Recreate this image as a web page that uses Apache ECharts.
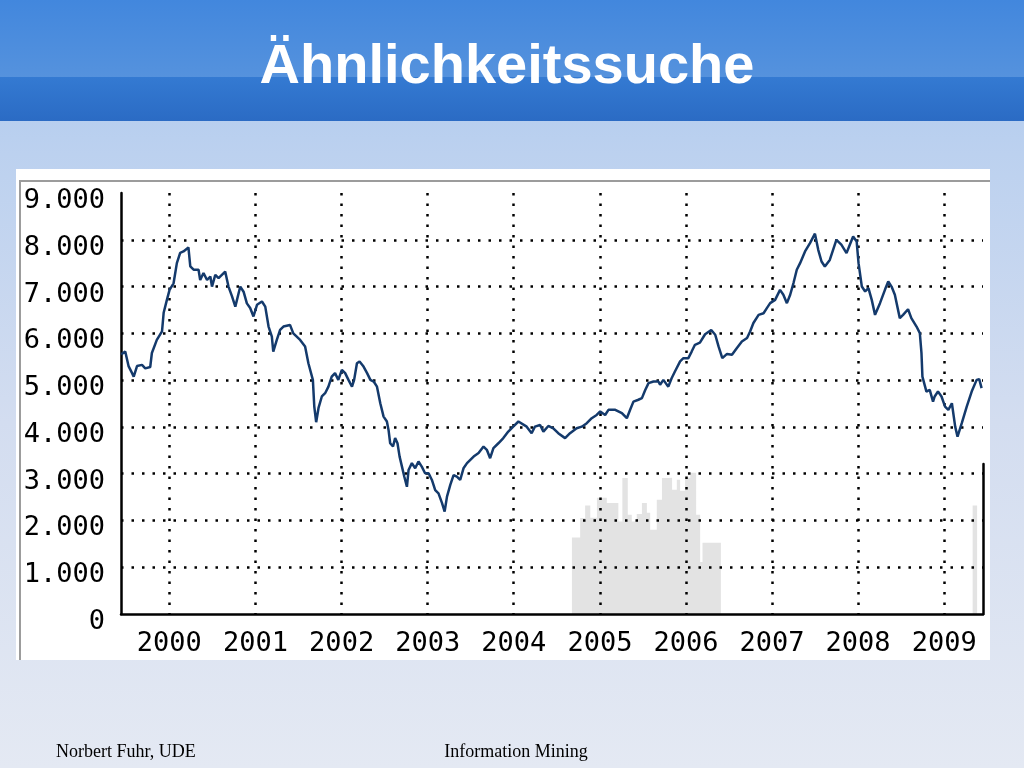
<!DOCTYPE html>
<html>
<head>
<meta charset="utf-8">
<script src="https://cdn.jsdelivr.net/npm/echarts@6/dist/echarts.min.js"></script>
<style>html,body{margin:0;padding:0;width:1024px;height:768px;overflow:hidden}#c{width:1024px;height:768px}</style>
</head>
<body>
<div id="c"></div>
<script>
// ---- data ----
const titleText = 'Ähnlichkeitssuche';
const footerLeft = 'Norbert Fuhr, UDE';
const footerCenter = 'Information Mining';
const yTickLabels = ['0','1.000','2.000','3.000','4.000','5.000','6.000','7.000','8.000','9.000'];
const yearLabels = ['2000','2001','2002','2003','2004','2005','2006','2007','2008','2009'];

const priceDates = ['1999-06-11','1999-06-28','1999-07-12','1999-07-27','1999-08-03','1999-08-17','1999-09-07','1999-09-21','1999-10-12','1999-10-19','1999-11-09','1999-12-01','1999-12-08','1999-12-22',
'2000-01-02','2000-01-19','2000-02-02','2000-02-16','2000-03-01','2000-03-22','2000-03-30','2000-04-13','2000-05-04','2000-05-11','2000-05-25','2000-06-09','2000-06-23','2000-06-30','2000-07-14','2000-07-28','2000-08-25','2000-09-08','2000-09-23','2000-10-07','2000-10-28','2000-11-11','2000-11-25','2000-12-09','2000-12-23',
'2001-01-07','2001-01-28','2001-02-11','2001-02-25','2001-03-11','2001-03-17','2001-04-01','2001-04-15','2001-04-29','2001-05-27','2001-06-10','2001-07-09','2001-07-30','2001-08-13','2001-09-01','2001-09-07','2001-09-15','2001-09-25','2001-10-09','2001-10-23','2001-11-06','2001-11-20','2001-12-04','2001-12-18',
'2002-01-02','2002-01-16','2002-01-30','2002-02-14','2002-02-23','2002-03-07','2002-03-18','2002-04-04','2002-04-19','2002-05-03','2002-05-17','2002-05-31','2002-06-14','2002-06-28','2002-07-12','2002-07-19','2002-07-26','2002-08-07','2002-08-16','2002-08-26','2002-09-04','2002-09-14','2002-09-24','2002-10-05','2002-10-12','2002-10-26','2002-11-09','2002-11-23','2002-12-07','2002-12-21',
'2003-01-05','2003-01-19','2003-02-02','2003-02-16','2003-03-03','2003-03-14','2003-03-24','2003-04-07','2003-04-21','2003-05-05','2003-05-19','2003-06-02','2003-06-17','2003-07-01','2003-07-15','2003-08-05','2003-08-26','2003-09-09','2003-09-23','2003-10-07','2003-10-28','2003-11-18','2003-12-09','2003-12-30',
'2004-01-21','2004-02-25','2004-03-17','2004-03-31','2004-04-22','2004-05-06','2004-05-27','2004-06-17','2004-07-08','2004-08-06','2004-08-27','2004-09-24','2004-10-16','2004-11-06','2004-11-27','2004-12-18',
'2005-01-02','2005-01-23','2005-02-06','2005-03-07','2005-04-04','2005-04-25','2005-05-09','2005-05-23','2005-06-13','2005-06-28','2005-07-12','2005-07-26','2005-08-16','2005-09-06','2005-09-13','2005-09-27','2005-10-18','2005-11-01','2005-11-15','2005-12-07','2005-12-21',
'2006-01-11','2006-01-25','2006-02-08','2006-03-01','2006-03-23','2006-04-18','2006-05-05','2006-05-19','2006-06-04','2006-06-24','2006-07-15','2006-08-05','2006-08-26','2006-09-17','2006-09-30','2006-10-14','2006-11-05','2006-11-26','2006-12-10','2006-12-24',
'2007-01-14','2007-02-04','2007-02-18','2007-03-05','2007-03-19','2007-04-02','2007-04-16','2007-04-30','2007-05-21','2007-06-11','2007-07-02','2007-07-16','2007-07-30','2007-08-13','2007-09-03','2007-09-17','2007-10-01','2007-10-22','2007-11-13','2007-11-27','2007-12-11','2007-12-26',
'2008-01-03','2008-01-17','2008-01-31','2008-02-14','2008-02-28','2008-03-13','2008-04-03','2008-04-24','2008-05-08','2008-05-22','2008-06-05','2008-06-26','2008-07-10','2008-07-31','2008-08-14','2008-09-05','2008-09-19','2008-09-26','2008-09-30','2008-10-17','2008-10-31','2008-11-14','2008-11-21','2008-12-05','2008-12-20',
'2009-01-04','2009-01-18','2009-02-02','2009-02-16','2009-02-26','2009-03-16','2009-04-06','2009-04-27','2009-05-18','2009-05-29','2009-06-08'];

const priceValues = [5550,5610,5300,5150,5075,5300,5325,5250,5280,5580,5860,6040,6440,6720,
6930,7070,7500,7720,7750,7835,7430,7360,7360,7140,7290,7140,7215,7000,7250,7180,7320,7000,6790,6570,7000,6890,6640,6540,6360,
6610,6680,6570,6145,5930,5610,5860,6075,6145,6180,6000,5860,5720,5360,5005,4435,4100,4405,4650,4720,4860,5075,5150,5005,
5220,5150,5005,4860,5005,5360,5400,5290,5150,5005,4970,4860,4505,4220,4115,3935,3650,3580,3760,3650,3365,3150,2935,2720,3080,3225,3115,3260,3150,3010,
3010,2865,2650,2580,2370,2190,2510,2760,2970,2935,2865,3115,3225,3295,3365,3440,3580,3510,3330,3545,3650,3760,3900,4005,
4115,4005,3865,4005,4040,3900,4020,3970,3865,3760,3865,3970,4005,4080,4185,4255,
4330,4255,4365,4365,4295,4185,4365,4540,4580,4615,4790,4935,4970,4970,4900,5005,4860,5040,5185,5400,5470,
5470,5610,5755,5800,5980,6070,5970,5720,5470,5560,5540,5685,5825,5900,6040,6220,6395,6430,6540,6645,
6715,6930,6825,6645,6825,7075,7360,7500,7750,7930,8130,7785,7535,7430,7570,7785,8000,7895,7715,7895,8070,7965,
7500,7000,6895,6965,6715,6395,6645,6930,7110,7000,6825,6325,6395,6515,6325,6145,6005,5575,5075,4755,4790,4540,4650,4755,4650,
4435,4365,4505,4005,3790,4080,4435,4755,5005,5020,4830];

// grey volume blocks (step outline, same units as the lower right scale)
const volumeDates = ['2004-09-04','2004-09-04','2004-10-09','2004-10-30','2004-11-21','2004-12-19','2005-01-09','2005-01-30','2005-03-20','2005-04-06','2005-04-29','2005-05-16','2005-06-06','2005-06-28','2005-07-19','2005-08-02','2005-08-30','2005-09-21','2005-10-19','2005-11-03','2005-11-23','2005-12-07','2005-12-28','2006-01-19','2006-02-13','2006-03-02','2006-03-12','2006-05-29','2006-05-29','2009-05-01','2009-05-01','2009-05-20','2009-05-20'];
const volumeValues = [0,1632,2047,2317,2053,2481,2481,2368,1974,2903,2118,1974,2133,2368,2160,1797,2438,2903,2909,2652,2866,2631,2909,3016,2118,1112,1519,1519,0,0,2317,2317,0];

// ---- chart ----
const priceData = priceDates.map((d, i) => [d, priceValues[i]]);
const volumeData = volumeDates.map((d, i) => [d, volumeValues[i]]);
const xMin = '1999-06-10', xMax = '2009-06-14';
const YEAR = 3600 * 24 * 1000 * 365;
const dotted = { color: '#000', width: 2.5, type: [2.5, 8], cap: 'butt' };

const chart = echarts.init(document.getElementById('c'), null, { renderer: 'canvas' });
chart.setOption({
  animation: false,
  backgroundColor: 'transparent',
  graphic: [
    { type: 'rect', z: -20, shape: { x: 0, y: 0, width: 1024, height: 768 },
      style: { fill: new echarts.graphic.LinearGradient(0, 0, 0, 1, [
        { offset: 0, color: '#a8c6ee' }, { offset: 0.2, color: '#bcd1ef' },
        { offset: 0.55, color: '#d3ddf0' }, { offset: 1, color: '#e4e9f3' }]) } },
    { type: 'rect', z: -19, shape: { x: 0, y: 0, width: 1024, height: 77 },
      style: { fill: new echarts.graphic.LinearGradient(0, 0, 0, 1, [
        { offset: 0, color: '#4287dd' }, { offset: 1, color: '#5592dd' }]) } },
    { type: 'rect', z: -19, shape: { x: 0, y: 77, width: 1024, height: 44 },
      style: { fill: new echarts.graphic.LinearGradient(0, 0, 0, 1, [
        { offset: 0, color: '#347ad2' }, { offset: 1, color: '#2b6bc4' }]) } },
    { type: 'rect', z: -18, shape: { x: 16, y: 169, width: 974, height: 491 }, style: { fill: '#ffffff' } },
    { type: 'line', z: -17, shape: { x1: 19, y1: 181, x2: 990, y2: 181 }, style: { stroke: '#9c9c9c', lineWidth: 2 } },
    { type: 'line', z: -17, shape: { x1: 20, y1: 181, x2: 20, y2: 660 }, style: { stroke: '#9c9c9c', lineWidth: 2 } },
    { type: 'text', z: 10, x: 507, y: 68,
      style: { text: titleText, fill: '#ffffff', font: 'bold 56px "Liberation Sans", Arial, sans-serif',
        align: 'center', verticalAlign: 'middle', textAlign: 'center', textVerticalAlign: 'middle' } },
    { type: 'text', z: 10, x: 56, y: 752,
      style: { text: footerLeft, fill: '#000', font: '18px "Liberation Serif", "Times New Roman", serif',
        align: 'left', verticalAlign: 'middle', textAlign: 'left', textVerticalAlign: 'middle' } },
    { type: 'text', z: 10, x: 516, y: 752,
      style: { text: footerCenter, fill: '#000', font: '18px "Liberation Serif", "Times New Roman", serif',
        align: 'center', verticalAlign: 'middle', textAlign: 'center', textVerticalAlign: 'middle' } }
  ],
  grid: [
    { left: 121, right: 41, top: 193, bottom: 154 },
    { left: 121, right: 41, top: 464, bottom: 154 }
  ],
  xAxis: [
    { type: 'time', gridIndex: 0, min: xMin, max: xMax, z: 3,
      minInterval: YEAR, maxInterval: YEAR + 3600 * 24 * 1000,
      axisLine: { show: true, lineStyle: { color: '#000', width: 2.5 } },
      axisTick: { show: false },
      splitLine: { show: true, showMinLine: false, showMaxLine: false, lineStyle: dotted },
      axisLabel: { color: '#000', fontFamily: '"DejaVu Sans Mono", monospace', fontSize: 27, margin: 16,
        formatter: v => { const y = String(new Date(v).getFullYear()); return yearLabels.indexOf(y) >= 0 ? y : ''; } } },
    { type: 'time', gridIndex: 1, min: xMin, max: xMax, show: false }
  ],
  yAxis: [
    { type: 'value', gridIndex: 0, min: 0, max: 9000, interval: 1000, z: 3,
      axisLine: { show: true, lineStyle: { color: '#000', width: 2.5 } },
      axisTick: { show: false },
      splitLine: { show: true, showMinLine: false, showMaxLine: false, lineStyle: dotted },
      axisLabel: { color: '#000', fontFamily: '"DejaVu Sans Mono", monospace', fontSize: 27, margin: 16,
        verticalAlign: 'top', lineHeight: 16, formatter: v => yTickLabels[Math.round(v / 1000)] } },
    { type: 'value', gridIndex: 1, position: 'right', min: 0, max: 3200,
      axisLine: { show: true, lineStyle: { color: '#000', width: 2.5 } },
      axisTick: { show: false }, axisLabel: { show: false }, splitLine: { show: false } }
  ],
  series: [
    { type: 'line', xAxisIndex: 1, yAxisIndex: 1, z: 2, step: 'end', data: volumeData,
      showSymbol: false, lineStyle: { width: 0 }, areaStyle: { color: '#e3e3e3', opacity: 1 } },
    { type: 'line', xAxisIndex: 0, yAxisIndex: 0, z: 5, data: priceData,
      showSymbol: false, lineStyle: { color: '#143a6c', width: 2.5 } }
  ]
});
</script>
</body>
</html>
